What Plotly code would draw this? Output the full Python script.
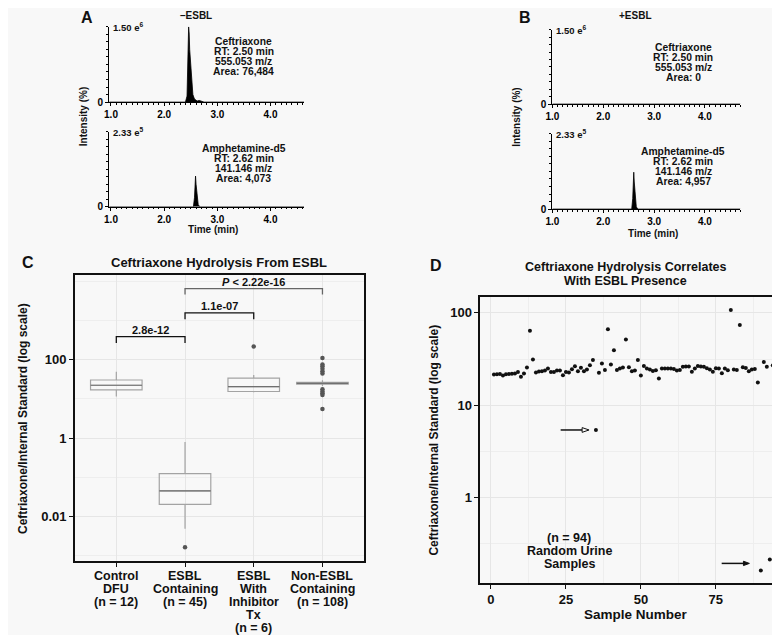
import plotly.graph_objects as go

W, H = 780, 635
def px(x): return x / W
def py(y): return 1 - y / H

FONT = "Liberation Sans"
BG = "#f8f8f8"
BLACK = "#111111"

# ---------------- Panel A / B : chromatograms (time min, intensity % of full scale)
a_cef_time = [0.97, 2.40, 2.43, 2.45, 2.46, 2.47, 2.48, 2.50, 2.52, 2.54, 2.57, 2.62, 2.66, 2.70, 2.75, 4.63]
a_cef_int = [0, 0, 8, 55, 100, 92, 70, 45, 22, 10, 4, 1.5, 2.2, 0.8, 0, 0]
a_amp_time = [0.97, 2.55, 2.57, 2.58, 2.59, 2.60, 2.62, 2.64, 2.67, 2.93, 2.95, 2.97, 3.28, 3.30, 3.32, 4.63]
a_amp_int = [0, 0, 12, 34, 41, 30, 12, 3, 0, 0, 0.8, 0, 0, 0.8, 0, 0]
b_cef_time = [1.0, 4.7]
b_cef_int = [0, 0]
b_amp_time = [1.0, 2.56, 2.58, 2.59, 2.60, 2.61, 2.63, 2.65, 2.68, 2.95, 2.97, 2.99, 3.30, 3.32, 3.34, 4.7]
b_amp_int = [0, 0, 14, 40, 49, 36, 14, 3, 0, 0, 0.8, 0, 0, 0.8, 0, 0]

a_cef_text = ["Ceftriaxone", "RT: 2.50 min", "555.053 m/z", "Area: 76,484"]
a_amp_text = ["Amphetamine-d5", "RT: 2.62 min", "141.146 m/z", "Area: 4,073"]
b_cef_text = ["Ceftriaxone", "RT: 2.50 min", "555.053 m/z", "Area: 0"]
b_amp_text = ["Amphetamine-d5", "RT: 2.62 min", "141.146 m/z", "Area: 4,957"]
chrom_xticks = [1, 2, 3, 4]
chrom_xlabels = ["1.0", "2.0", "3.0", "4.0"]

# ---------------- Panel C : box plots
categories = ["Control DFU", "ESBL Containing", "ESBL With Inhibitor Tx", "Non-ESBL Containing"]
cat_label_lines = [["Control", "DFU", "(n = 12)"],
                   ["ESBL", "Containing", "(n = 45)"],
                   ["ESBL", "With", "Inhibitor", "Tx", "(n = 6)"],
                   ["Non-ESBL", "Containing", "(n = 108)"]]
box_low = [11.6, 0.0048, 14.8, 21.5]
box_q1 = [17.0, 0.0201, 15.5, 23.8]
box_median = [22.4, 0.0445, 20.7, 25.1]
box_q3 = [30.5, 0.123, 34.2, 26.4]
box_high = [49.7, 0.79, 40.8, 30.0]
outlier_cat = ["ESBL Containing", "ESBL With Inhibitor Tx"] + ["Non-ESBL Containing"] * 11
outlier_val = [0.0016, 221, 112, 76, 69, 59, 51, 45, 17.7, 15.5, 14.0, 12.7, 5.5]
c_yticks = [0.01, 1, 100]
c_ylabels = ["0.01", "1", "100"]

# ---------------- Panel D : random urine samples
sample_no = list(range(1, 95))
ratio = [21.5, 21.6, 21.7, 21.0, 21.6, 21.8, 21.9, 22.0, 22.8, 20.3,
         22.0, 25.5, 64.0, 31.3, 22.6, 23.1, 23.3, 23.7, 24.9, 22.8,
         22.8, 23.7, 23.7, 21.1, 22.8, 22.6, 24.5, 26.4, 23.3, 25.4,
         23.3, 24.3, 27.0, 30.8, 5.4, 22.4, 28.2, 24.1, 66.4, 27.5,
         39.2, 24.1, 24.9, 25.5, 51.4, 25.7, 23.3, 23.7, 30.9, 21.0,
         26.6, 24.9, 24.3, 23.5, 23.9, 19.5, 24.9, 24.9, 24.9, 25.0,
         24.7, 23.7, 24.1, 26.0, 26.2, 26.2, 23.0, 24.9, 26.6, 26.2,
         26.0, 25.1, 24.3, 23.0, 25.1, 24.9, 22.2, 24.9, 23.9, 107.0,
         24.3, 24.1, 73.8, 25.7, 25.3, 23.3, 24.3, 24.7, 17.6, 0.163,
         29.4, 26.0, 0.214, 27.0]
d_xticks = [0, 25, 50, 75]
d_yticks = [1, 10, 100]
d_note = ["(n = 94)", "Random Urine", "Samples"]
d_title = ["Ceftriaxone Hydrolysis Correlates", "With ESBL Presence"]

fig = go.Figure()

def chrom_trace(t, i, xa, ya):
    fig.add_trace(go.Scatter(x=t, y=i, mode="lines", fill="tozeroy", fillcolor="black",
                             line=dict(color="black", width=0.8), xaxis=xa, yaxis=ya,
                             hoverinfo="skip"))

chrom_trace(a_cef_time, a_cef_int, "x", "y")
chrom_trace(a_amp_time, a_amp_int, "x2", "y2")
chrom_trace(b_cef_time, b_cef_int, "x3", "y3")
chrom_trace(b_amp_time, b_amp_int, "x4", "y4")

# Panel C boxes (box outline + darker median line)
for k, cat in enumerate(categories):
    fig.add_trace(go.Box(x=[cat], q1=[box_q1[k]], median=[box_median[k]], q3=[box_q3[k]],
                         lowerfence=[box_low[k]], upperfence=[box_high[k]],
                         boxpoints=False, width=0.75, whiskerwidth=0,
                         line=dict(color="#a3a3a3", width=1.2), fillcolor="rgba(0,0,0,0)",
                         xaxis="x5", yaxis="y5"))
    fig.add_trace(go.Box(x=[cat], q1=[box_median[k]], median=[box_median[k]], q3=[box_median[k]],
                         lowerfence=[box_median[k]], upperfence=[box_median[k]],
                         boxpoints=False, width=0.75, whiskerwidth=0,
                         line=dict(color="#707070", width=1.2), fillcolor="rgba(0,0,0,0)",
                         xaxis="x5", yaxis="y5"))
fig.add_trace(go.Scatter(x=outlier_cat, y=outlier_val, mode="markers",
                         marker=dict(size=4.5, color="#555555"), xaxis="x5", yaxis="y5"))

# Panel D points
fig.add_trace(go.Scatter(x=sample_no, y=ratio, mode="markers",
                         marker=dict(size=4, color=BLACK), xaxis="x6", yaxis="y6"))

# ---------------- axes
def chrom_axes(xk, yk, xdom, ydom, xrange):
    fig.layout[xk] = dict(domain=xdom, range=xrange, anchor=yk.replace("axis", ""),
                          showline=True, linecolor="black", linewidth=1,
                          ticks="outside", ticklen=3, tickwidth=1, tickcolor="black",
                          tickvals=chrom_xticks, ticktext=chrom_xlabels,
                          tickfont=dict(size=10, family=FONT, color="black", weight="bold"),
                          showgrid=False, zeroline=False,
                          minor=dict(tickmode="linear", tick0=0, dtick=0.1, ticks="outside",
                                     ticklen=1.5, tickcolor="black", showgrid=False))
    fig.layout[yk] = dict(domain=ydom, range=[0, 100], anchor=xk.replace("axis", ""),
                          showline=True, linecolor="black", linewidth=1,
                          ticks="outside", ticklen=3, tickwidth=1, tickcolor="black",
                          tickvals=[0], ticktext=["0"],
                          tickfont=dict(size=10, family=FONT, color="black", weight="bold"),
                          showgrid=False, zeroline=False,
                          minor=dict(tickmode="linear", tick0=0, dtick=10, ticks="outside",
                                     ticklen=2, tickcolor="black", showgrid=False))

chrom_axes("xaxis", "yaxis", [px(95), px(292)], [py(95), py(19)], [0.963, 4.63])
chrom_axes("xaxis2", "yaxis2", [px(95), px(292)], [py(200.7), py(125)], [0.963, 4.63])
chrom_axes("xaxis3", "yaxis3", [px(543), px(733)], [py(97), py(22)], [1.0, 4.7])
chrom_axes("xaxis4", "yaxis4", [px(543), px(733)], [py(203), py(127)], [1.0, 4.7])

panel_common = dict(showline=True, mirror=True, linecolor=BLACK, linewidth=2,
                    ticks="outside", ticklen=4, tickwidth=1, tickcolor=BLACK,
                    zeroline=False, showgrid=True, gridcolor="#e6e6e6", gridwidth=1,
                    tickfont=dict(size=13, family=FONT, color=BLACK, weight="bold"))

fig.layout["xaxis5"] = dict(domain=[px(60.7), px(352.3)], anchor="y5", type="category",
                            categoryorder="array", categoryarray=categories,
                            range=[-0.6, 3.6], showticklabels=False, **panel_common)
fig.layout["yaxis5"] = dict(domain=[py(558.3), py(270)], anchor="x5", type="log",
                            range=[-3.147, 4.16], tickvals=c_yticks, ticktext=c_ylabels,
                            minor=dict(tickvals=[0.001, 0.1, 10, 1000, 10000], showgrid=True,
                                       gridcolor="#eeeeee", ticks=""),
                            **panel_common)
fig.layout["xaxis6"] = dict(domain=[px(470.3), px(779.0)], anchor="y6",
                            range=[-3.5, 98.4], tickvals=d_xticks,
                            minor=dict(tickvals=[12.5, 37.5, 62.5, 87.5], showgrid=True,
                                       gridcolor="#eeeeee", ticks=""),
                            **panel_common)
fig.layout["yaxis6"] = dict(domain=[py(580), py(291.7)], anchor="x6", type="log",
                            range=[-0.918, 2.171], tickvals=d_yticks,
                            minor=dict(tickvals=[0.316, 3.16, 31.6], showgrid=True,
                                       gridcolor="#eeeeee", ticks=""),
                            **panel_common)

# ---------------- annotations
anns = []
def ann(text, x, y, size, bold=True, xanchor="center", yanchor="middle", angle=0,
        xref="paper", yref="paper", color=BLACK):
    anns.append(dict(text=text, x=x, y=y, xref=xref, yref=yref, showarrow=False,
                     xanchor=xanchor, yanchor=yanchor, textangle=angle, borderpad=0,
                     font=dict(size=size, family=FONT, color=color,
                               weight="bold" if bold else "normal")))

# panel letters
ann("A", px(73), py(10), 16)
ann("B", px(515), py(10), 16)
ann("C", px(13), py(257), 16)
ann("D", px(425), py(260), 16)

# A / B headers
ann("–ESBL", px(183), py(8), 10)
ann("+ESBL", px(627), py(8), 10)
ann("1.50 e<sup>6</sup>", px(98), py(19), 9.5, xanchor="left")
ann("2.33 e<sup>5</sup>", px(98), py(125), 9.5, xanchor="left")
ann("1.50 e<sup>6</sup>", px(546), py(22), 9.5, xanchor="left")
ann("2.33 e<sup>5</sup>", px(546), py(127), 9.5, xanchor="left")

def block(lines, cx, y0):
    for k, s in enumerate(lines):
        ann(s, px(cx), py(y0 + 10 * k), 10.3)

block(a_cef_text, 231, 34.3)
block(a_amp_text, 231, 141.7)
block(b_cef_text, 675, 40)
block(b_amp_text, 675, 145)

ann("Intensity (%)", px(70), py(110), 10, angle=-90)
ann("Intensity (%)", px(507), py(110), 10, angle=-90)
ann("Time (min)", px(200), py(224), 10)
ann("Time (min)", px(645), py(228), 10)

# Panel C
ann("Ceftriaxone Hydrolysis From ESBL", px(206.5), py(257), 13)
ann("Ceftriaxone/Internal Standard (log scale)", px(8), py(414), 12, angle=-90)
for k, lines in enumerate(cat_label_lines):
    for j, s in enumerate(lines):
        ann(s, k, py(573.5 + 13.2 * j), 12.5, xref="x5")

brackets = [  # (from cat, to cat, bar y px, leg y px, label, label y px, colour)
    (0, 1, 331.7, 338.3, "2.8e-12", 325.2, BLACK),
    (1, 2, 307.7, 314.3, "1.1e-07", 301.2, BLACK),
    (1, 3, 283.3, 289.3, "<i>P</i> < 2.22e-16", 276.2, "#666666"),
]
shapes = []
for c0, c1, yb, yl, lab, ylab, col in brackets:
    shapes.append(dict(type="path", xref="x5", yref="paper",
                       path=f"M {c0},{py(yl)} L {c0},{py(yb)} L {c1},{py(yb)} L {c1},{py(yl)}",
                       line=dict(color=col, width=1.3)))
    ann(lab, (c0 + c1) / 2, py(ylab), 11, xref="x5")

# Panel D
ann(d_title[0], px(617), py(261.5), 12.5)
ann(d_title[1], px(617), py(276), 12.5)
ann("Ceftriaxone/Internal Standard (log scale)", px(423), py(436), 12, angle=-90)
ann("Sample Number", px(627), py(612.7), 13.5)
for j, s in enumerate(d_note):
    ann(s, px(560), py(535 + 13 * j), 12.5)

# arrows in D
shapes.append(dict(type="line", xref="paper", yref="paper", x0=px(551.3), x1=px(573), y0=py(426), y1=py(426),
                   line=dict(color=BLACK, width=1.5)))
shapes.append(dict(type="path", xref="paper", yref="paper",
                   path=f"M {px(573)},{py(423.6)} L {px(580)},{py(426)} L {px(573)},{py(428.4)} Z",
                   fillcolor=BG, line=dict(color=BLACK, width=1)))
shapes.append(dict(type="line", xref="paper", yref="paper", x0=px(714), x1=px(737), y0=py(560.7), y1=py(560.7),
                   line=dict(color=BLACK, width=1.5)))
shapes.append(dict(type="path", xref="paper", yref="paper",
                   path=f"M {px(736)},{py(558.5)} L {px(742)},{py(560.7)} L {px(736)},{py(562.9)} Z",
                   fillcolor=BLACK, line=dict(color=BLACK, width=1)))

fig.update_layout(width=W, height=H, autosize=False, margin=dict(l=0, r=0, t=0, b=0),
                  paper_bgcolor=BG, plot_bgcolor=BG, showlegend=False,
                  boxmode="overlay", annotations=anns, shapes=shapes,
                  font=dict(family=FONT, color=BLACK))

fig.write_html("out.html")
